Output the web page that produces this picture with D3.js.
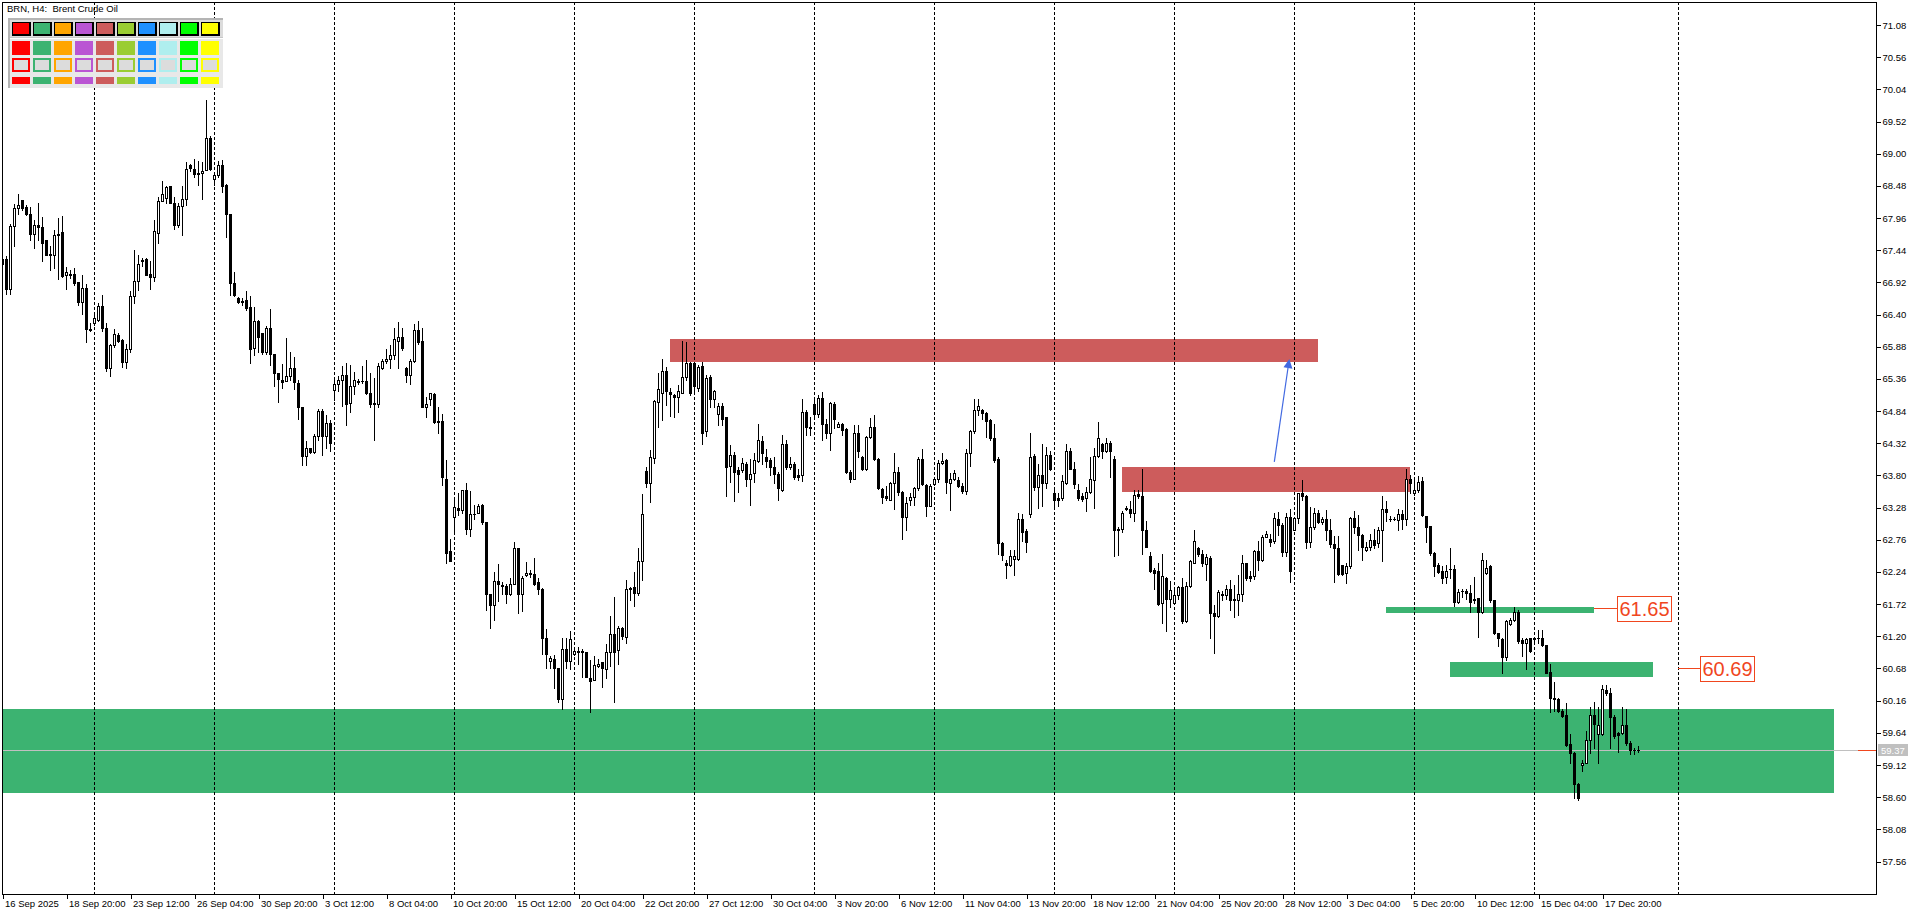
<!DOCTYPE html>
<html><head><meta charset="utf-8">
<script src="https://cdn.jsdelivr.net/npm/d3@7"></script>
<style>html,body{margin:0;padding:0;background:#fff;overflow:hidden}</style>
</head><body>
<svg id="c" width="1920" height="915" xmlns="http://www.w3.org/2000/svg"></svg>
<script>
// ---------------- DATA (BRN, H4) ----------------
const opens=[67.29,67.29,66.82,67.83,68.13,68.25,68.14,68.03,67.70,67.85,67.82,67.61,67.38,67.36,67.70,67.73,67.04,67.06,67.06,66.92,
66.61,66.83,66.17,66.26,66.31,66.54,66.19,65.53,65.91,66.07,65.99,65.64,65.85,66.70,66.94,67.28,67.30,67.06,67.00,67.72,
68.24,68.28,68.47,68.21,67.85,68.15,68.26,68.81,68.76,68.69,68.68,68.73,69.25,68.59,68.65,68.81,68.49,68.03,66.91,66.67,
66.62,66.63,66.52,65.86,66.30,66.10,65.80,66.19,65.76,65.45,65.35,65.33,65.41,65.53,65.30,64.90,64.12,64.24,64.18,64.43,
64.84,64.43,64.64,65.18,65.27,65.34,65.43,64.97,65.25,65.31,65.32,65.33,65.13,64.97,64.96,65.53,65.65,65.68,65.74,65.97,
66.03,65.53,65.42,65.65,66.15,65.97,64.91,65.03,65.12,64.68,64.68,63.75,62.58,63.12,63.28,63.24,63.56,62.94,63.17,63.20,
63.32,63.04,61.88,61.70,62.10,62.03,62.01,61.89,62.05,62.62,61.89,62.19,62.23,62.21,62.07,61.97,61.18,60.80,60.83,60.68,
60.18,60.99,60.80,60.92,60.95,60.96,60.94,60.52,60.50,60.72,60.78,60.67,60.94,61.24,60.98,61.34,61.19,61.97,61.99,61.90,
62.41,63.87,63.67,64.08,64.99,65.14,65.49,65.15,65.10,65.06,65.14,65.39,65.61,65.61,65.22,65.57,64.52,65.39,65.03,64.80,
64.92,64.74,63.96,64.13,63.88,63.88,63.99,63.75,63.84,64.04,64.36,64.09,64.05,63.94,63.82,63.56,64.31,63.94,63.99,63.81,
63.80,64.83,64.58,64.95,64.79,65.05,64.63,64.49,64.95,64.59,64.63,64.55,63.86,63.75,64.48,64.09,63.91,64.42,64.59,64.06,
63.58,63.47,63.41,63.67,63.85,63.54,63.12,63.40,63.45,63.59,64.06,63.65,63.30,63.66,63.74,64.00,64.05,63.67,63.75,63.73,
63.63,63.55,64.16,64.51,64.86,64.86,64.81,64.70,64.40,64.06,62.70,62.39,62.35,62.45,62.45,63.09,62.90,63.17,64.11,63.62,
63.81,63.67,64.13,63.52,63.43,63.43,63.68,64.19,63.91,63.56,63.46,63.43,63.54,63.73,64.12,64.31,64.20,64.33,64.06,62.94,
62.93,63.28,63.25,63.20,63.50,63.47,62.92,62.50,62.27,62.25,61.73,62.15,61.81,61.74,61.86,61.99,61.45,62.01,62.39,62.62,
62.53,62.37,62.46,61.57,61.53,61.89,61.86,61.96,61.80,61.79,61.88,62.38,62.17,62.18,62.58,62.44,62.81,62.77,62.74,63.09,
63.00,62.57,63.13,62.92,63.11,63.51,63.47,62.73,62.97,63.20,63.04,63.09,62.92,62.69,62.62,62.35,62.22,62.33,63.11,62.96,
62.83,62.59,62.65,62.76,62.71,62.92,63.25,63.10,63.09,63.08,63.18,63.09,63.75,63.51,63.57,63.71,63.14,62.98,62.54,62.36,
62.26,62.16,62.28,62.28,61.76,61.93,61.93,61.90,61.81,61.82,61.60,62.22,62.33,61.78,61.25,61.16,60.86,61.40,61.46,61.60,
61.14,61.09,61.17,61.16,61.18,61.18,61.06,60.62,60.21,60.18,60.00,59.93,59.46,59.32,58.82,59.12,59.16,59.53,59.92,59.62,
59.62,60.33,60.29,59.90,59.63,59.63,59.77,59.47,59.37,59.37];
const highs=[67.31,67.35,67.87,68.18,68.35,68.25,68.17,68.14,67.93,68.21,67.97,67.61,67.50,67.77,67.96,67.99,67.17,67.12,67.16,66.92,
67.04,66.89,66.26,66.42,66.58,66.72,66.26,65.93,66.16,66.11,66.00,65.93,66.78,67.44,67.37,67.32,67.31,67.26,67.93,68.30,
68.56,68.48,68.48,68.30,68.21,68.48,68.87,68.83,68.91,68.88,68.87,69.87,69.28,68.68,68.88,68.90,68.51,68.03,67.09,66.69,
66.66,66.78,66.70,66.53,66.32,66.11,66.21,66.49,65.76,65.45,65.60,66.02,65.80,65.72,65.35,64.91,64.35,64.25,64.47,64.87,
64.87,64.78,64.69,65.37,65.41,65.57,65.61,65.58,65.47,65.36,65.57,65.66,65.46,65.37,65.61,65.68,65.84,65.91,66.19,66.28,
66.19,65.55,65.68,66.25,66.29,66.19,65.07,65.13,65.13,64.91,64.79,64.05,62.77,63.40,63.51,63.57,63.67,63.55,63.32,63.34,
63.34,63.04,61.89,62.24,62.37,62.08,62.04,62.14,62.72,62.63,62.17,62.40,62.27,62.46,62.14,61.98,61.32,60.88,60.90,60.68,
61.17,61.18,61.29,61.03,61.03,60.99,60.95,60.82,60.88,60.84,60.78,61.07,61.53,61.84,61.37,61.35,62.11,61.99,62.24,62.63,
63.50,63.93,64.21,65.02,65.46,65.68,65.56,65.21,65.12,65.26,65.97,65.95,65.64,65.64,65.58,65.64,65.42,65.42,65.18,64.97,
64.97,64.75,64.29,64.18,63.93,64.08,64.01,64.06,64.16,64.63,64.44,64.22,64.08,64.10,63.86,64.45,64.38,64.09,64.02,63.90,
65.03,64.86,64.75,65.03,65.10,65.15,64.72,64.99,64.98,64.67,64.64,64.57,63.89,64.61,64.61,64.11,64.44,64.73,64.78,64.08,
63.59,63.63,63.70,64.17,63.93,63.55,63.45,63.51,63.61,64.09,64.22,63.66,63.66,63.77,64.05,64.16,64.06,63.84,63.89,63.77,
63.67,64.22,64.53,65.03,65.03,64.88,64.83,64.71,64.63,64.10,62.73,62.43,62.60,62.60,63.20,63.17,62.93,64.48,64.15,63.98,
64.30,64.26,64.20,63.57,63.51,63.80,64.30,64.24,64.01,63.66,63.51,63.62,64.10,64.24,64.66,64.32,64.41,64.36,64.11,62.96,
63.22,63.30,63.38,63.57,63.56,63.91,63.07,62.57,62.30,62.38,62.53,62.16,62.10,61.97,62.01,62.14,62.08,62.44,62.92,62.65,
62.60,62.53,62.49,61.70,61.95,61.93,62.03,62.11,62.03,62.19,62.51,62.39,62.26,62.60,62.74,62.83,62.90,62.85,63.20,63.21,
63.03,63.20,63.25,63.13,63.52,63.73,63.48,63.29,63.27,63.24,63.13,63.24,63.09,62.82,62.82,62.35,62.38,63.13,63.23,63.16,
62.86,62.73,62.86,62.93,62.97,63.47,63.38,63.14,63.13,63.25,63.24,63.90,63.81,63.75,63.79,63.78,63.14,62.98,62.57,62.38,
62.33,62.35,62.62,62.35,61.97,61.97,61.97,62.03,62.16,61.82,62.54,62.44,62.35,61.79,61.26,61.17,61.47,61.49,61.68,61.62,
61.18,61.18,61.18,61.19,61.30,61.30,61.06,60.76,60.46,60.20,60.02,60.12,59.62,59.33,58.83,59.20,59.67,60.06,60.14,60.06,
60.41,60.41,60.36,59.93,59.66,60.05,60.03,59.50,59.39,59.43];
const lows=[67.20,66.74,66.74,67.50,68.03,68.09,68.01,67.61,67.47,67.61,67.26,67.36,67.12,67.15,66.97,67.01,66.81,66.99,66.88,66.55,
66.41,65.96,66.14,66.23,66.30,66.14,65.48,65.40,65.88,65.96,65.56,65.53,65.80,66.58,66.80,67.19,67.04,66.82,66.95,67.55,
68.23,68.20,68.20,67.79,67.82,67.68,68.17,68.72,68.63,68.50,68.26,68.73,68.74,68.50,68.62,68.38,67.66,66.72,66.70,66.58,
66.55,66.47,65.61,65.75,65.80,65.76,65.77,65.59,65.25,64.98,65.22,65.33,65.34,65.19,64.72,63.97,63.97,64.16,64.17,64.38,
64.13,64.24,64.20,65.02,65.16,64.93,64.61,64.83,65.12,65.27,65.30,65.12,64.90,64.37,64.90,65.52,65.61,65.54,65.68,65.53,
65.82,65.31,65.28,65.64,65.93,64.90,64.74,64.94,64.65,64.48,63.65,62.38,62.41,62.87,63.16,63.20,62.86,62.82,63.09,63.19,
63.02,61.63,61.33,61.47,61.77,61.89,61.74,61.87,62.04,61.58,61.61,62.18,62.16,62.03,61.88,60.92,60.68,60.68,60.37,60.13,
60.02,60.68,60.67,60.90,60.75,60.55,60.54,59.97,60.49,60.71,60.38,60.52,60.72,60.13,60.76,61.15,61.09,61.79,61.69,61.87,
62.11,63.62,63.37,64.00,64.59,64.70,64.94,64.76,64.75,64.83,65.13,65.34,65.10,65.17,65.17,64.30,64.43,64.91,64.90,64.61,
64.61,63.46,63.70,63.39,63.54,63.86,63.63,63.32,63.70,64.02,63.99,63.94,63.81,63.67,63.40,63.55,63.91,63.90,63.74,63.73,
63.71,64.45,64.46,64.71,64.75,64.37,64.40,64.21,64.56,64.59,64.46,63.84,63.70,63.75,64.10,63.89,63.88,64.40,64.05,63.58,
63.35,63.41,63.40,63.25,63.48,62.77,62.91,63.33,63.33,63.56,63.65,63.14,63.30,63.64,63.70,63.98,63.52,63.24,63.73,63.62,
63.51,63.50,63.96,64.49,64.78,64.72,64.42,64.37,64.02,62.53,62.44,62.15,62.34,62.19,62.44,62.74,62.57,63.12,63.57,63.28,
63.31,63.59,63.89,63.25,63.31,63.41,63.66,63.90,63.59,63.41,63.39,63.22,63.52,63.28,64.10,64.08,64.18,63.78,62.49,62.51,
62.89,63.24,63.13,63.07,63.43,62.53,62.64,62.24,61.97,61.70,61.42,61.29,61.67,61.73,61.81,61.41,61.43,62.00,62.39,62.49,
62.33,62.11,61.18,60.93,61.51,61.79,61.81,61.62,61.51,61.54,61.77,62.11,62.10,62.12,62.27,62.41,62.80,62.66,62.70,62.84,
62.50,62.50,62.07,62.91,63.03,63.40,62.62,62.65,62.94,63.03,63.01,62.75,62.64,62.08,62.19,62.19,62.06,62.31,62.87,62.59,
62.44,62.58,62.59,62.62,62.64,62.41,63.07,63.07,63.08,62.92,62.93,63.00,63.51,63.48,63.54,63.14,62.73,62.51,62.17,62.22,
62.06,62.06,62.14,61.69,61.74,61.84,61.81,61.60,61.73,61.19,61.58,62.21,61.76,61.24,61.04,60.60,60.81,61.38,61.45,61.09,
60.88,60.67,60.95,61.09,61.09,61.04,60.60,59.97,60.00,59.98,59.90,59.42,59.15,58.58,58.56,59.03,59.15,59.31,59.40,59.16,
59.60,60.25,59.40,59.55,59.33,59.62,59.45,59.30,59.30,59.33];
const closes=[67.22,66.82,67.83,68.12,68.17,68.13,68.03,67.70,67.85,67.81,67.55,67.37,67.36,67.69,67.68,67.03,67.09,67.04,66.91,66.61,
66.83,66.16,66.15,66.34,66.54,66.19,65.54,65.91,66.08,65.98,65.64,65.85,66.70,66.94,67.21,67.26,67.04,67.00,67.75,68.24,
68.35,68.46,68.21,67.85,68.15,68.26,68.76,68.77,68.67,68.67,68.72,69.25,68.76,68.65,68.81,68.48,68.02,66.91,66.71,66.61,
66.60,66.51,65.85,66.30,66.03,65.80,66.19,65.76,65.45,65.36,65.31,65.41,65.53,65.31,64.91,64.12,64.25,64.18,64.43,64.84,
64.43,64.64,64.33,65.27,65.35,65.43,64.96,65.24,65.35,65.32,65.32,65.14,64.96,64.96,65.57,65.65,65.68,65.75,66.00,66.03,
65.86,65.43,65.65,66.15,65.95,64.91,64.96,65.13,64.67,64.67,63.78,62.54,62.42,63.29,63.24,63.57,62.94,63.17,63.18,63.30,
63.04,61.89,61.70,62.10,62.05,62.02,61.89,62.04,62.62,61.89,62.15,62.23,62.21,62.05,61.97,61.18,60.91,60.85,60.68,60.18,
61.00,60.80,61.15,60.96,60.96,60.94,60.55,60.48,60.73,60.76,60.68,60.94,61.24,60.95,61.34,61.20,61.97,61.98,61.90,62.41,
63.17,63.67,64.09,65.01,65.19,65.48,65.17,65.11,65.06,65.17,65.39,65.61,65.13,65.24,65.55,64.49,65.37,65.03,65.16,64.92,
64.72,63.93,64.13,63.86,63.83,64.00,63.75,63.83,64.05,64.37,64.17,64.04,63.93,63.83,63.59,64.30,63.94,63.98,63.78,63.78,
64.83,64.59,64.56,64.79,65.05,64.63,64.49,64.97,64.71,64.63,64.53,63.86,63.75,64.48,64.20,63.90,64.42,64.58,64.06,63.59,
63.45,63.43,63.67,63.85,63.54,63.12,63.36,63.45,63.59,64.06,63.66,63.30,63.63,63.75,64.00,64.04,63.70,63.75,63.84,63.63,
63.55,64.16,64.51,64.85,64.93,64.81,64.68,64.41,64.05,62.70,62.51,62.35,62.49,62.49,63.09,62.89,62.73,64.09,63.62,63.81,
63.68,64.13,63.90,63.41,63.40,63.71,64.19,63.91,63.66,63.44,63.42,63.54,63.74,64.12,64.40,64.20,64.33,64.20,62.92,62.92,
63.20,63.25,63.19,63.48,63.46,62.92,62.65,62.26,62.23,61.72,62.18,61.81,61.95,61.86,61.99,61.45,62.02,62.42,62.74,62.53,
62.38,62.48,61.57,61.53,61.91,61.86,61.96,61.79,61.79,61.88,62.38,62.15,62.14,62.58,62.43,62.81,62.85,62.73,63.11,63.00,
62.57,63.12,62.26,63.11,63.51,63.46,62.73,62.97,63.19,63.05,63.09,62.92,62.69,62.62,62.21,62.21,62.34,63.11,62.97,62.83,
62.65,62.65,62.76,62.68,62.92,63.25,63.21,63.09,63.10,63.18,63.09,63.75,63.67,63.57,63.70,63.16,62.96,62.54,62.33,62.24,
62.15,62.26,62.28,61.76,61.92,61.93,61.90,61.76,61.78,61.60,62.44,62.31,61.78,61.25,61.17,60.87,61.45,61.46,61.59,61.12,
61.09,61.16,60.97,61.17,61.17,61.06,60.61,60.21,60.18,60.00,59.91,59.44,59.32,58.82,58.58,59.16,59.53,59.92,59.78,59.77,
60.34,60.29,59.90,59.59,59.60,59.77,59.47,59.37,59.36,59.37];

const timeLabels=["16 Sep 2025","18 Sep 20:00","23 Sep 12:00","26 Sep 04:00","30 Sep 20:00","3 Oct 12:00","8 Oct 04:00",
"10 Oct 20:00","15 Oct 12:00","20 Oct 04:00","22 Oct 20:00","27 Oct 12:00","30 Oct 04:00","3 Nov 20:00","6 Nov 12:00",
"11 Nov 04:00","13 Nov 20:00","18 Nov 12:00","21 Nov 04:00","25 Nov 20:00","28 Nov 12:00","3 Dec 04:00","5 Dec 20:00",
"10 Dec 12:00","15 Dec 04:00","17 Dec 20:00"];
const timeLabelBars=[0,16,32,48,64,80,96,112,128,144,160,176,192,208,224,240,256,272,288,304,320,336,352,368,384,400];
const priceTicks=[71.08,70.56,70.04,69.52,69.00,68.48,67.96,67.44,66.92,66.40,65.88,65.36,64.84,64.32,63.80,63.28,62.76,
62.24,61.72,61.20,60.68,60.16,59.64,59.12,58.60,58.08,57.56];
const gridBars=[23,53,83,113,143,173,203,233,263,293,323,353,383,419];

// rectangles (bar index from/to, price top/bottom)
const zoneFrom=[-0.6,166.9,279.9,345.9,361.9];
const zoneTo=[457.9,328.9,351.9,397.9,412.6];
const zoneTop=[60.02,66.00,63.94,61.67,60.78];
const zoneBottom=[58.66,65.64,63.54,61.57,60.55];
const zoneColors=["#3CB371","#CD5C5C","#CD5C5C","#3CB371","#3CB371"];

// arrow (bar, price)
const arrowFrom=[317.95,64.02];
const arrowTo=[321.7,65.68];

// price labels
const labelValues=[61.65,60.69];
const labelLineFrom=[397.9,418.9];
const labelBoxAt=[403.6,424.4];

const lastPrice=59.37;
const paletteColors=["#FF0000","#3CB371","#FFA500","#BA55D3","#CD5C5C","#9ACD32","#1E90FF","#AFEEEE","#00FF00","#FFFF00"];

// ---------------- DRAW ----------------
const svg=d3.select("#c");
const FONT="'Liberation Sans', Arial, sans-serif";
const x=d3.scaleLinear().domain([0,400]).range([2.5,1602.5]);
const y=d3.scaleLinear().domain([57.56,71.08]).range([861.5,25]);
const R=v=>Math.round(v);
const L=2, T=2, RX=1876, BY=894;

svg.append("rect").attr("width",1920).attr("height",915).attr("fill","#fff");

const plot=svg.append("g");
plot.append("clipPath").attr("id","pc").append("rect").attr("x",L).attr("y",T).attr("width",RX-L).attr("height",BY-T);
const pg=plot.append("g").attr("clip-path","url(#pc)").attr("shape-rendering","crispEdges");

// zones
pg.selectAll("rect.zone").data(d3.range(zoneFrom.length)).join("rect").attr("class","zone")
  .attr("x",i=>R(x(zoneFrom[i]))).attr("width",i=>R(x(zoneTo[i]))-R(x(zoneFrom[i])))
  .attr("y",i=>R(y(zoneTop[i]))).attr("height",i=>R(y(zoneBottom[i]))-R(y(zoneTop[i])))
  .attr("fill",i=>zoneColors[i]);

// grid lines
pg.selectAll("line.grid").data(gridBars).join("line").attr("class","grid")
  .attr("x1",d=>x(d)).attr("x2",d=>x(d)).attr("y1",T).attr("y2",BY)
  .attr("stroke","#000").attr("stroke-width",1).attr("stroke-dasharray","3,2");

// last price line
pg.append("line").attr("x1",L).attr("x2",1858).attr("y1",R(y(lastPrice))+0.5).attr("y2",R(y(lastPrice))+0.5)
  .attr("stroke","#C0C0C0").attr("stroke-width",1);
pg.append("line").attr("x1",1858).attr("x2",RX).attr("y1",R(y(lastPrice))+0.5).attr("y2",R(y(lastPrice))+0.5)
  .attr("stroke","#F0461E").attr("stroke-width",1);

// candles
const idx=d3.range(opens.length);
const bt=i=>R(y(Math.max(opens[i],closes[i])));
const bb=i=>R(y(Math.min(opens[i],closes[i])));
pg.selectAll("rect.wick").data(idx).join("rect").attr("class","wick")
  .attr("x",i=>R(x(i)-0.5)).attr("width",1)
  .attr("y",i=>R(y(highs[i]))).attr("height",i=>Math.max(1,R(y(lows[i]))-R(y(highs[i]))+1))
  .attr("fill","#000");
pg.selectAll("rect.body").data(idx).join("rect").attr("class","body")
  .attr("x",i=>R(x(i)-1.5)).attr("width",3)
  .attr("y",bt).attr("height",i=>Math.max(1,bb(i)-bt(i)+1))
  .attr("fill","#000");
pg.selectAll("rect.inner").data(idx.filter(i=>closes[i]>opens[i]&&bb(i)-bt(i)+1>2)).join("rect").attr("class","inner")
  .attr("x",i=>R(x(i)-0.5)).attr("width",1)
  .attr("y",i=>bt(i)+1).attr("height",i=>bb(i)-bt(i)-1)
  .attr("fill","#fff");

// arrow
const ax1=x(arrowFrom[0]), ay1=y(arrowFrom[1]), ax2=x(arrowTo[0]), ay2=y(arrowTo[1]);
const ang=Math.atan2(ay2-ay1,ax2-ax1);
const hl=9, hw=4.5;
const bx=ax2-hl*Math.cos(ang), byy=ay2-hl*Math.sin(ang);
const ag=svg.append("g");
ag.append("line").attr("x1",ax1).attr("y1",ay1).attr("x2",bx).attr("y2",byy).attr("stroke","#4169E1").attr("stroke-width",1.2);
ag.append("polygon").attr("points",[[ax2,ay2],[bx+hw*Math.sin(ang),byy-hw*Math.cos(ang)],[bx-hw*Math.sin(ang),byy+hw*Math.cos(ang)]].map(p=>p.join(",")).join(" "))
  .attr("fill","#4169E1");

// price labels with connectors
const lg=svg.append("g");
labelValues.forEach((v,i)=>{
  const yy=R(y(v))+0.5;
  lg.append("line").attr("x1",x(labelLineFrom[i])).attr("x2",x(labelBoxAt[i])).attr("y1",yy).attr("y2",yy)
    .attr("stroke","#F0461E").attr("stroke-width",1).attr("shape-rendering","crispEdges");
  const bx0=R(x(labelBoxAt[i]))+0.5;
  lg.append("rect").attr("x",bx0).attr("y",yy-12.5).attr("width",54).attr("height",25)
    .attr("fill","#fff").attr("stroke","#F0461E").attr("stroke-width",1).attr("shape-rendering","crispEdges");
  lg.append("text").attr("x",bx0+27).attr("y",yy+7).attr("text-anchor","middle")
    .attr("font-family",FONT).attr("font-size",20).attr("fill","#F0461E").text(v.toFixed(2));
});

// frame
const fg=svg.append("g").attr("shape-rendering","crispEdges");
fg.append("line").attr("x1",L).attr("x2",RX+1).attr("y1",T+0.5).attr("y2",T+0.5).attr("stroke","#000");
fg.append("line").attr("x1",L+0.5).attr("x2",L+0.5).attr("y1",T).attr("y2",BY+1).attr("stroke","#000");

// right price axis
const yAxis=d3.axisRight(y).tickValues(priceTicks).tickSize(4).tickSizeOuter(0).tickPadding(2).tickFormat(d3.format(".2f"));
const ya=svg.append("g").attr("transform",`translate(${RX+0.5},0)`).call(yAxis);
ya.select(".domain").remove();
ya.selectAll("line").attr("stroke","#000").attr("shape-rendering","crispEdges");
ya.selectAll("text").attr("font-family",FONT).attr("font-size",9.5).attr("fill","#000");
fg.append("line").attr("x1",RX+0.5).attr("x2",RX+0.5).attr("y1",T).attr("y2",BY+1).attr("stroke","#000");

// bottom time axis
const xAxis=d3.axisBottom(x).tickValues(timeLabelBars).tickSize(4).tickSizeOuter(0).tickFormat((d,i)=>timeLabels[i]);
const xa=svg.append("g").attr("transform",`translate(0,${BY+0.5})`).call(xAxis);
xa.select(".domain").remove();
xa.selectAll("line").attr("stroke","#000").attr("shape-rendering","crispEdges");
xa.selectAll("text").attr("font-family",FONT).attr("font-size",9.5).attr("fill","#000")
  .attr("text-anchor","start").attr("x",2).attr("y",6).attr("dy","0.71em");
fg.append("line").attr("x1",L).attr("x2",RX+1).attr("y1",BY+0.5).attr("y2",BY+0.5).attr("stroke","#000");

// last price tag
const ly=R(y(lastPrice))+0.5;
svg.append("rect").attr("x",1878).attr("y",ly-6.5).attr("width",30).attr("height",12).attr("fill","#C0C0C0");
svg.append("text").attr("x",1881).attr("y",ly+3.5).attr("font-family",FONT).attr("font-size",9.5).attr("fill","#fff").text(lastPrice.toFixed(2));

// title
svg.append("text").attr("x",7).attr("y",12).attr("font-family",FONT).attr("font-size",9.5).attr("fill","#000")
  .style("white-space","pre").attr("xml:space","preserve").text("BRN, H4:  Brent Crude Oil");

// palette panel
const pal=svg.append("g").attr("shape-rendering","crispEdges");
pal.append("rect").attr("x",8).attr("y",18).attr("width",215).attr("height",70).attr("fill","#e8e8e8");
pal.append("rect").attr("x",8).attr("y",18).attr("width",215).attr("height",2).attr("fill","#b4b4b4");
pal.append("rect").attr("x",8).attr("y",18).attr("width",2).attr("height",70).attr("fill","#b4b4b4");
pal.append("rect").attr("x",10).attr("y",20).attr("width",213).attr("height",18).attr("fill","#dcdcdc");
pal.append("rect").attr("x",10).attr("y",38).attr("width",213).attr("height",1).attr("fill","#fff");
pal.append("rect").attr("x",10).attr("y",37).attr("width",213).attr("height",1).attr("fill","#c8c8c8");
paletteColors.forEach((c,k)=>{
  const cx=12+21*k;
  pal.append("rect").attr("x",cx).attr("y",22).attr("width",19).attr("height",14).attr("fill","#000");
  pal.append("rect").attr("x",cx+1).attr("y",23).attr("width",16).attr("height",11).attr("fill",c);
  pal.append("rect").attr("x",cx).attr("y",41).attr("width",18).attr("height",14).attr("fill",c);
  pal.append("rect").attr("x",cx).attr("y",58).attr("width",18).attr("height",14).attr("fill",c);
  pal.append("rect").attr("x",cx+2).attr("y",60).attr("width",14).attr("height",10).attr("fill","#dcdcdc");
  pal.append("rect").attr("x",cx).attr("y",77).attr("width",18).attr("height",7).attr("fill",c);
});
</script>
</body></html>
